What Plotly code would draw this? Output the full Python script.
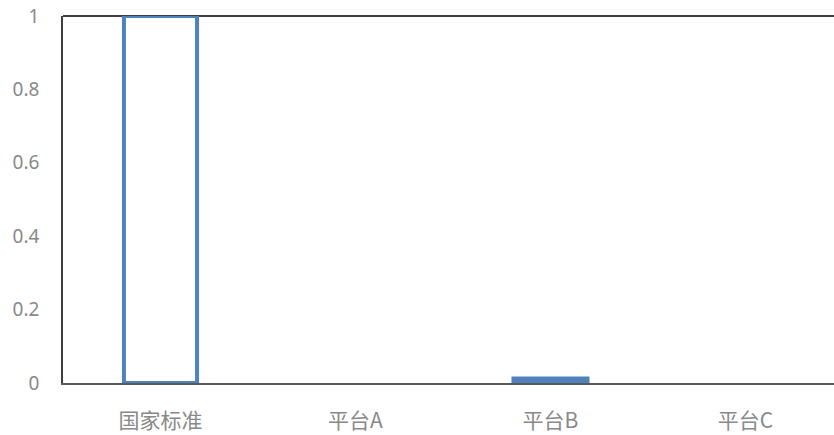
import plotly.graph_objects as go

categories = ["国家标准", "平台A", "平台B", "平台C"]
values = [1.0, 0.0, 0.018, 0.0]
tick_vals = [0, 0.2, 0.4, 0.6, 0.8, 1]
tick_text = ["0", "0.2", "0.4", "0.6", "0.8", "1"]

blue = "#4F81BD"
fills = ["#FFFFFF", blue, blue, blue]
edge_widths = [4, 0, 0, 0]
bar_widths = [0.375, 0.4, 0.4, 0.4]

fig = go.Figure(
    go.Bar(
        x=categories,
        y=values,
        width=bar_widths,
        marker=dict(color=fills, line=dict(color=blue, width=edge_widths)),
        hoverinfo="x+y",
    )
)

font_family = "Noto Sans CJK SC, Noto Sans, sans-serif"
label_grey = "#898989"

fig.update_layout(
    width=834,
    height=435,
    margin=dict(l=63, r=0, t=16, b=52),
    paper_bgcolor="white",
    plot_bgcolor="white",
    showlegend=False,
    font=dict(family=font_family, size=19, color=label_grey),
)

# the category axis runs a little past the right edge of the page
fig.update_xaxes(
    range=[-0.5, 3.454],
    showgrid=False,
    showline=True,
    linecolor="#595959",
    linewidth=2,
    ticks="",
    tickfont=dict(family=font_family, size=21, color=label_grey),
    ticklabelstandoff=18,
)

fig.update_yaxes(
    range=[0, 1],
    tickvals=tick_vals,
    ticktext=tick_text,
    showgrid=False,
    zeroline=False,
    showline=True,
    linecolor="#404040",
    linewidth=1.5,
    ticks="",
    tickfont=dict(family="Noto Sans, sans-serif", size=19, color=label_grey),
    ticklabelstandoff=18,
)

# top frame line of the plot area
fig.add_shape(
    type="line", xref="paper", yref="paper",
    x0=0, x1=1, y0=1, y1=1,
    line=dict(color="#000000", width=1.5),
    layer="below",
)

fig.write_html("out.html")
